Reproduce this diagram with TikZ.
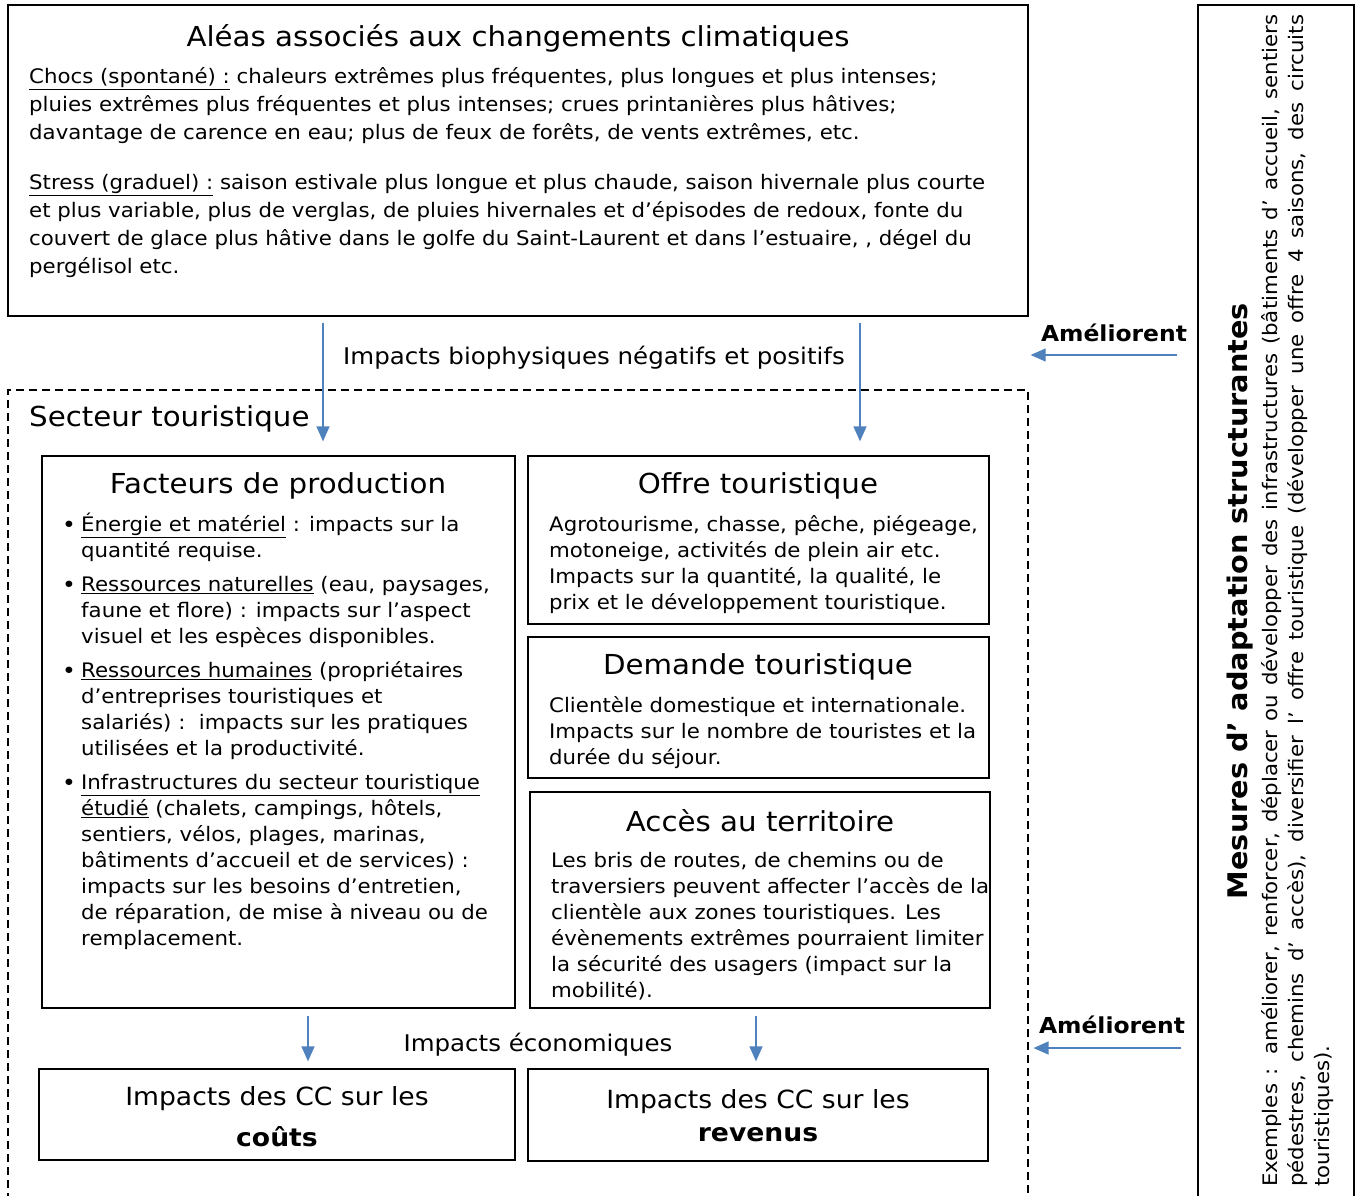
\documentclass[tikz,border=0pt]{standalone}
\usepackage{fontspec}
\setmainfont{DejaVu Sans}[FakeStretch=1.065]
\usetikzlibrary{arrows.meta}
\definecolor{arrblue}{HTML}{4F81BD}
\newcommand\fsz[2]{\fontsize{#1}{#2}\selectfont}
\newcommand\bul{\makebox[19pt][l]{\raisebox{-1.5pt}{\fsz{22}{22}\textbullet}}}
\newcommand\ind{\hspace*{19pt}}
\newcommand\tp{\rule{0pt}{19pt}}

\begin{document}
\begin{tikzpicture}[x=1pt, y=-1pt, >={Triangle[length=15pt,width=13pt]},
  box/.style={draw, line width=1.3pt, inner sep=0pt},
  ttl/.style={inner sep=0pt, font=\fsz{27.5}{32}},
  body/.style={anchor=north west, align=left, inner sep=0pt, font=\fsz{20}{26}},
  lbl/.style={inner sep=0pt, font=\fsz{23}{28}},
  amel/.style={inner sep=0pt, font=\fsz{22}{26}\bfseries},
  arr/.style={->, draw=arrblue, fill=arrblue, line width=1.3pt}]
\useasboundingbox (0,0) rectangle (1356,1195);

\node (alea) at (518,160.5) [box, minimum width=1020pt, minimum height=311pt] {};
\node (sect) at (518,795) [box, line width=1.1pt, dash pattern=on 8pt off 5pt, minimum width=1020pt, minimum height=810pt] {};
\node (mes) at (1276,602.5) [box, minimum width=156pt, minimum height=1195pt] {};
\node (fp) at (278.5,732) [box, minimum width=473pt, minimum height=552pt] {};
\node (offre) at (758.5,540) [box, minimum width=461pt, minimum height=168pt] {};
\node (dem) at (758.5,707.5) [box, minimum width=461pt, minimum height=141pt] {};
\node (acces) at (760,900) [box, minimum width=460pt, minimum height=216pt] {};
\node (couts) at (277,1114.5) [box, minimum width=476pt, minimum height=91pt] {};
\node (rev) at (758,1115) [box, minimum width=460pt, minimum height=92pt] {};

\node (ta) at (518,38) [ttl] {Aléas associés aux changements climatiques};
\node (ba) at (29,64) [body, font=\fsz{20}{28}] {\tp\underline{Chocs (spontané) :} chaleurs extrêmes plus fréquentes, plus longues et plus intenses;\\
pluies extrêmes plus fréquentes et plus intenses; crues printanières plus hâtives;\\
davantage de carence en eau; plus de feux de forêts, de vents extrêmes, etc.\\[22pt]
\underline{Stress (graduel) :} saison estivale plus longue et plus chaude, saison hivernale plus courte\\
et plus variable, plus de verglas, de pluies hivernales et d’épisodes de redoux, fonte du\\
couvert de glace plus hâtive dans le golfe du Saint-Laurent et dans l’estuaire, , dégel du\\
pergélisol etc.};

\node (bio) at (594,358) [lbl] {Impacts biophysiques négatifs et positifs};
\node (ts) at (29,419) [ttl, anchor=west] {Secteur touristique};

\node (tfp) at (278,486) [ttl] {Facteurs de production};
\node (bfp) at (62,512) [body] {\tp\bul\underline{Énergie et matériel} : impacts sur la\\
\ind quantité requise.\\[8pt]
\bul\underline{Ressources naturelles} (eau, paysages,\\
\ind faune et flore) : impacts sur l’aspect\\
\ind visuel et les espèces disponibles.\\[8pt]
\bul\underline{Ressources humaines} (propriétaires\\
\ind d’entreprises touristiques et\\
\ind salariés) :\ \ impacts sur les pratiques\\
\ind utilisées et la productivité.\\[8pt]
\bul\underline{Infrastructures du secteur touristique}\\
\ind\underline{étudié} (chalets, campings, hôtels,\\
\ind sentiers, vélos, plages, marinas,\\
\ind bâtiments d’accueil et de services) :\\
\ind impacts sur les besoins d’entretien,\\
\ind de réparation, de mise à niveau ou de\\
\ind remplacement.};

\node (to) at (758,486) [ttl] {Offre touristique};
\node (bo) at (549,512) [body] {\tp Agrotourisme, chasse, pêche, piégeage,\\
motoneige, activités de plein air etc.\\
Impacts sur la quantité, la qualité, le\\
prix et le développement touristique.};

\node (td) at (758,667) [ttl] {Demande touristique};
\node (bd) at (549,693) [body] {\tp Clientèle domestique et internationale.\\
Impacts sur le nombre de touristes et la\\
durée du séjour.};

\node (tac) at (760,821) [ttl] {Accès au territoire};
\node (bac) at (551,848) [body] {\tp Les bris de routes, de chemins ou de\\
traversiers peuvent affecter l’accès de la\\
clientèle aux zones touristiques. Les\\
évènements extrêmes pourraient limiter\\
la sécurité des usagers (impact sur la\\
mobilité).};

\node (eco) at (538,1045) [lbl] {Impacts économiques};
\node (tc) at (277,1117) [inner sep=0pt, align=center, font=\fsz{25}{41}] {Impacts des CC sur les\\\textbf{coûts}};
\node (tr) at (758,1116) [inner sep=0pt, align=center, font=\fsz{25}{33}] {Impacts des CC sur les\\\textbf{revenus}};

\node (a1) at (1114,333) [amel] {Améliorent};
\node (a2) at (1112,1025) [amel] {Améliorent};

\node (tm) at (1240,601) [rotate=90, inner sep=0pt, font=\fsz{27}{30}\bfseries] {Mesures d’ adaptation structurantes};
\node (bm) at (1258,1187) [rotate=90, body] {\tp\makebox[1172pt][s]{Exemples : améliorer, renforcer, déplacer ou développer des infrastructures (bâtiments d’ accueil, sentiers}\\
\makebox[1172pt][s]{pédestres, chemins d’ accès), diversifier l’ offre touristique (développer une offre 4 saisons, des circuits}\\
touristiques).};

\draw[arr] ([yshift=-6pt]alea.south -| 323,0) -- ([yshift=14pt]fp.north -| 323,0);
\draw[arr] ([yshift=-6pt]alea.south -| 860,0) -- ([yshift=14pt]offre.north -| 860,0);
\draw[arr] ([yshift=-7pt]fp.south -| 308,0) -- ([yshift=7pt]couts.north -| 308,0);
\draw[arr] ([yshift=-7pt]acces.south -| 756,0) -- ([yshift=7pt]rev.north -| 756,0);
\draw[arr] ([xshift=-20pt]mes.west |- 0,355) -- ([xshift=2pt]alea.east |- 0,355);
\draw[arr] ([xshift=-16pt]mes.west |- 0,1048) -- ([xshift=5pt]sect.east |- 0,1048);
\end{tikzpicture}
\end{document}
